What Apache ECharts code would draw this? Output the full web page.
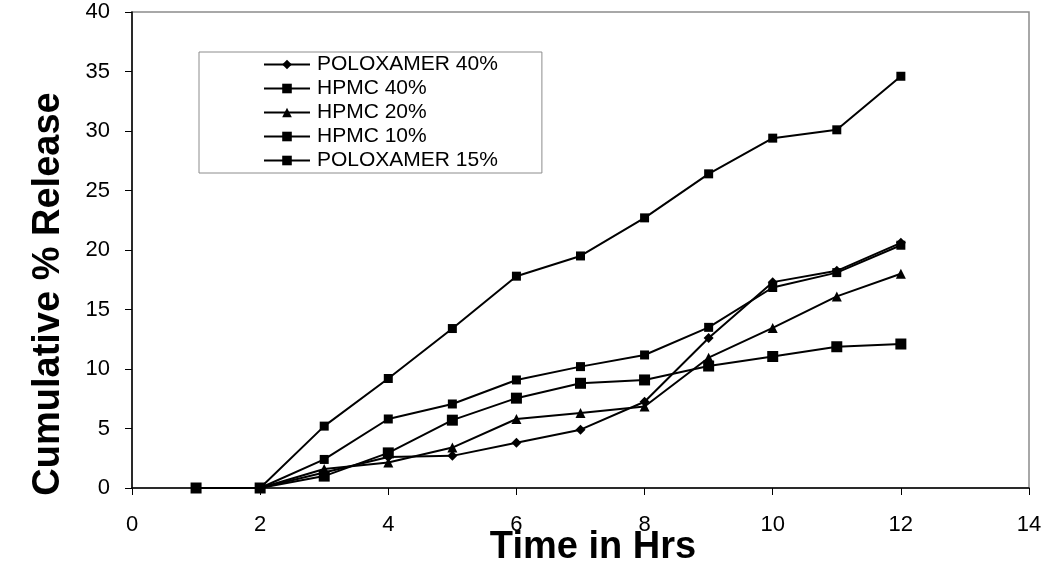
<!DOCTYPE html>
<html>
<head>
<meta charset="utf-8">
<script src="https://cdn.jsdelivr.net/npm/echarts@6/dist/echarts.min.js"></script>
<style>
html,body{margin:0;padding:0;background:#fff;}
#chart{width:1049px;height:571px;}
</style>
</head>
<body>
<div id="chart"></div>
<script>
var timeHrs = [1, 2, 3, 4, 5, 6, 7, 8, 9, 10, 11, 12];
var seriesNames = ['POLOXAMER 40%', 'HPMC 40%', 'HPMC 20%', 'HPMC 10%', 'POLOXAMER 15%'];
var poloxamer40 = [0, 0, 1.3, 2.6, 2.7, 3.8, 4.9, 7.25, 12.6, 17.3, 18.25, 20.6];
var hpmc40 = [0, 0, 1.0, 2.95, 5.7, 7.55, 8.8, 9.08, 10.25, 11.05, 11.87, 12.1];
var hpmc20 = [0, 0, 1.6, 2.15, 3.4, 5.8, 6.3, 6.85, 10.95, 13.45, 16.1, 18.0];
var hpmc10 = [0, 0, 2.4, 5.8, 7.06, 9.08, 10.2, 11.18, 13.5, 16.85, 18.1, 20.4];
var poloxamer15 = [0, 0, 5.2, 9.2, 13.4, 17.8, 19.5, 22.7, 26.4, 29.4, 30.1, 34.6];
var xTicks = [0, 2, 4, 6, 8, 10, 12, 14];
var yTicks = [0, 5, 10, 15, 20, 25, 30, 35, 40];
var xTitle = 'Time in Hrs';
var yTitle = 'Cumulative % Release';

var FONT = '"Liberation Sans", Arial, sans-serif';
function pairs(vals) { return timeHrs.map(function (t, i) { return [t, vals[i]]; }); }
var allValues = [poloxamer40, hpmc40, hpmc20, hpmc10, poloxamer15];
var symbols = ['diamond', 'rect', 'triangle', 'rect', 'rect'];
var symbolSizes = [10, 11, 10, 9, 9];

var chart = echarts.init(document.getElementById('chart'));
chart.setOption({
  animation: false,
  backgroundColor: '#fff',
  grid: { left: 132, right: 20, top: 12, bottom: 83, show: true, borderColor: '#8c8c8c', borderWidth: 1.5, backgroundColor: 'transparent' },
  xAxis: {
    type: 'value', min: xTicks[0], max: xTicks[xTicks.length - 1], interval: 2,
    axisLine: { lineStyle: { color: '#000', width: 1.5 } },
    axisTick: { show: true, length: 7, lineStyle: { color: '#000' } },
    axisLabel: { color: '#000', fontSize: 22, fontFamily: FONT, margin: 26 },
    splitLine: { show: false }
  },
  yAxis: {
    type: 'value', min: yTicks[0], max: yTicks[yTicks.length - 1], interval: 5,
    axisLine: { show: true, lineStyle: { color: '#000', width: 1.5 } },
    axisTick: { show: true, length: 7, lineStyle: { color: '#000' } },
    axisLabel: { color: '#000', fontSize: 22, fontFamily: FONT, margin: 22 },
    splitLine: { show: false }
  },
  legend: {
    orient: 'vertical', left: 199, top: 52,
    padding: [2, 44, 2, 64],
    itemWidth: 46, itemHeight: 12, itemGap: 3,
    borderColor: '#8c8c8c', borderWidth: 1, backgroundColor: '#fff',
    textStyle: { color: '#000', fontSize: 21, fontFamily: FONT, lineHeight: 21, padding: [0, 0, 0, 2] },
    data: seriesNames
  },
  graphic: [
    { type: 'text', x: 593, y: 548, style: { text: xTitle, font: 'bold 38px ' + FONT, fill: '#000', align: 'center', verticalAlign: 'middle' } },
    { type: 'text', x: 49, y: 294, rotation: Math.PI / 2, style: { text: yTitle, font: 'bold 38px ' + FONT, fill: '#000', align: 'center', verticalAlign: 'middle' } }
  ],
  series: seriesNames.map(function (name, i) {
    return {
      name: name, type: 'line', data: pairs(allValues[i]),
      symbol: symbols[i], symbolSize: symbolSizes[i],
      showAllSymbol: true,
      lineStyle: { color: '#000', width: 2 },
      itemStyle: { color: '#000', borderColor: '#000', borderWidth: 0 },
      emphasis: { disabled: true }
    };
  })
});
</script>
</body>
</html>
